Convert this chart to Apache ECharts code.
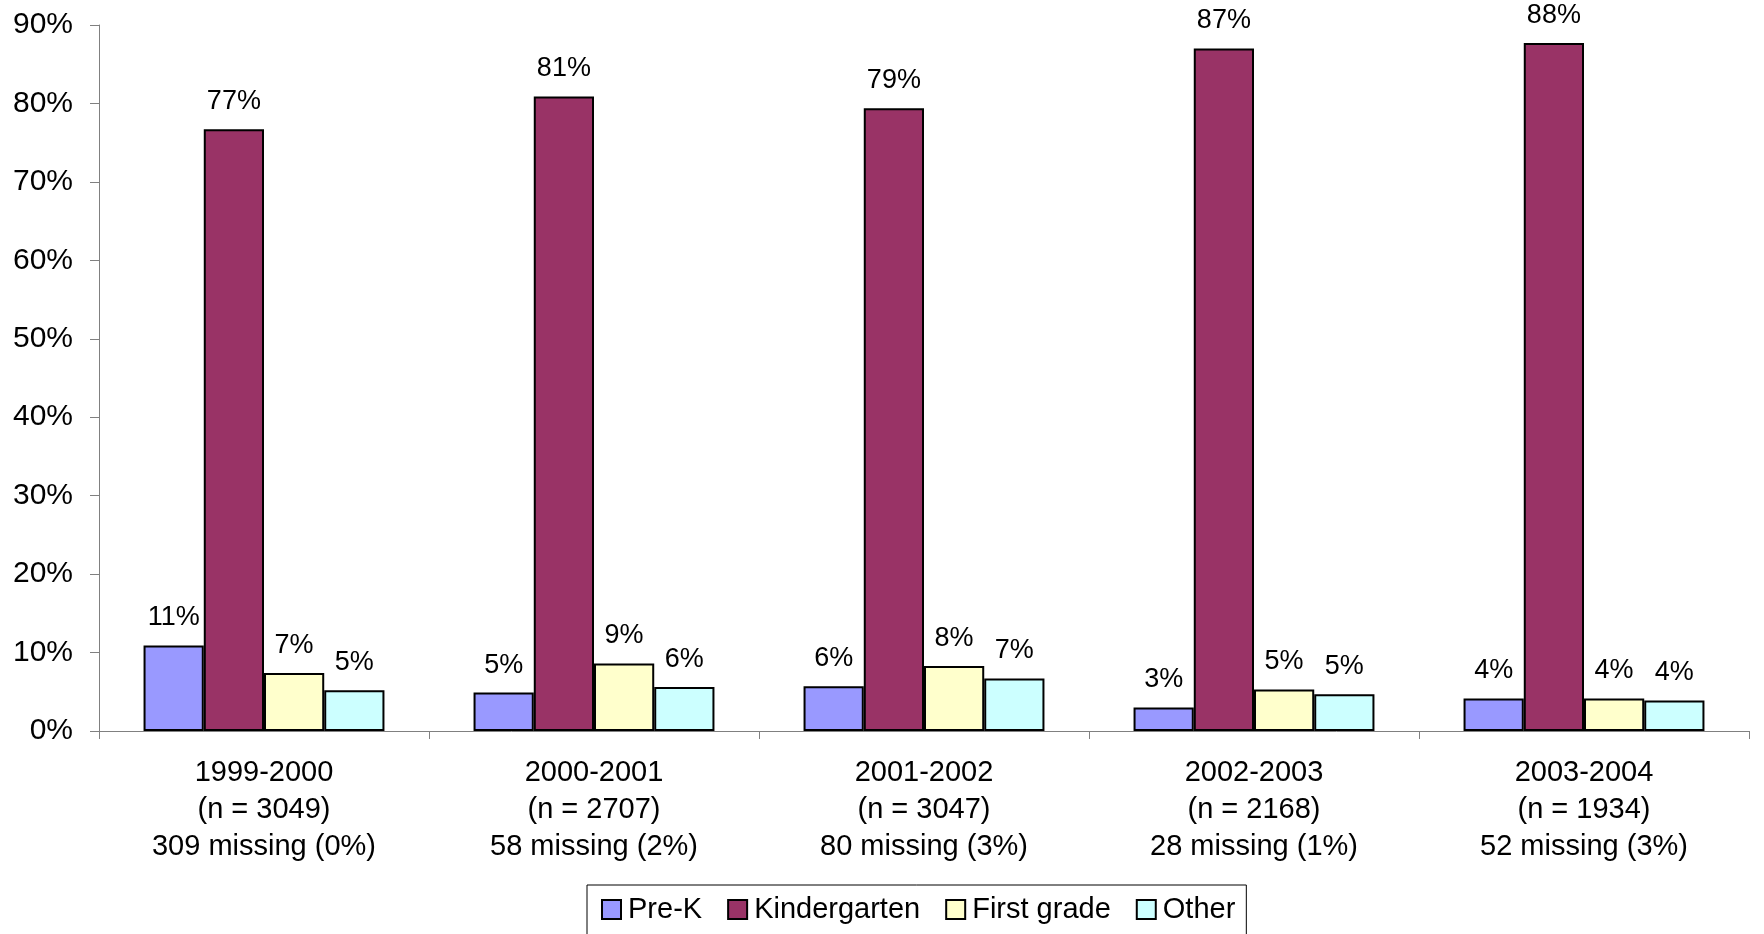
<!DOCTYPE html>
<html>
<head>
<meta charset="utf-8">
<script src="https://cdn.jsdelivr.net/npm/echarts@6/dist/echarts.min.js"></script>
<style>
  html, body { margin: 0; padding: 0; background: #fff; }
  #main { width: 1764px; height: 934px; }
</style>
</head>
<body>
<div id="main"></div>
<script>
// categories (school years)
var years = ['1999-2000', '2000-2001', '2001-2002', '2002-2003', '2003-2004'];
var nCounts = ['3049', '2707', '3047', '2168', '1934'];
var missing = ['309 missing (0%)', '58 missing (2%)', '80 missing (3%)', '28 missing (1%)', '52 missing (3%)'];

// series values, percent
var preK = [10.9, 4.9, 5.7, 3.0, 4.15];
var kindergarten = [76.7, 80.9, 79.4, 87.0, 87.7];
var firstGrade = [7.4, 8.6, 8.3, 5.3, 4.15];
var other = [5.2, 5.6, 6.7, 4.7, 3.9];

var seriesNames = ['Pre-K', 'Kindergarten', 'First grade', 'Other'];
var seriesColors = ['#9999FF', '#993366', '#FFFFCC', '#CCFFFF'];

var categories = years.map(function (y, i) {
	return y + '\n(n = ' + nCounts[i] + ')\n' + missing[i];
});

var font = 'Liberation Sans, Arial, sans-serif';

function makeSeries(name, data, color) {
	return {
		name: name,
		type: 'bar',
		data: data,
		barGap: 0,
		barCategoryGap: '27%',
		itemStyle: {
			color: color,
			borderColor: '#000',
			borderWidth: 2
		},
		label: {
			show: true,
			position: 'top',
			distance: 14,
			color: '#000',
			fontFamily: font,
			fontSize: 27,
			formatter: function (p) {
				return Math.round(p.value) + '%';
			}
		}
	};
}

var myChart = echarts.init(document.getElementById('main'));
myChart.setOption({
	animation: false,
	backgroundColor: '#fff',
	grid: {
		left: 99,
		right: 15,
		top: 25,
		bottom: 203,
		containLabel: false
	},
	legend: {
		left: 587,
		top: 885,
		itemWidth: 19,
		itemHeight: 19,
		itemGap: 25,
		padding: [10, 11, 14, 14],
		borderColor: '#000',
		borderWidth: 1,
		icon: 'rect',
		textStyle: {
			color: '#000',
			fontFamily: font,
			fontSize: 29,
			padding: [0, 0, 0, 2]
		},
		data: seriesNames
	},
	xAxis: {
		type: 'category',
		data: categories,
		axisLine: { lineStyle: { color: '#808080', width: 1 } },
		axisTick: { show: true, length: 8, lineStyle: { color: '#808080' } },
		axisLabel: {
			color: '#000',
			fontFamily: font,
			fontSize: 29,
			lineHeight: 36.7,
			margin: 24,
			interval: 0
		}
	},
	yAxis: {
		type: 'value',
		min: 0,
		max: 90,
		interval: 10,
		axisLine: { show: true, lineStyle: { color: '#808080', width: 1 } },
		axisTick: { show: true, length: 9, lineStyle: { color: '#808080' } },
		splitLine: { show: false },
		axisLabel: {
			color: '#000',
			fontFamily: font,
			fontSize: 30,
			margin: 26,
			formatter: '{value}%'
		}
	},
	series: [
		makeSeries(seriesNames[0], preK, seriesColors[0]),
		makeSeries(seriesNames[1], kindergarten, seriesColors[1]),
		makeSeries(seriesNames[2], firstGrade, seriesColors[2]),
		makeSeries(seriesNames[3], other, seriesColors[3])
	]
});
</script>
</body>
</html>
